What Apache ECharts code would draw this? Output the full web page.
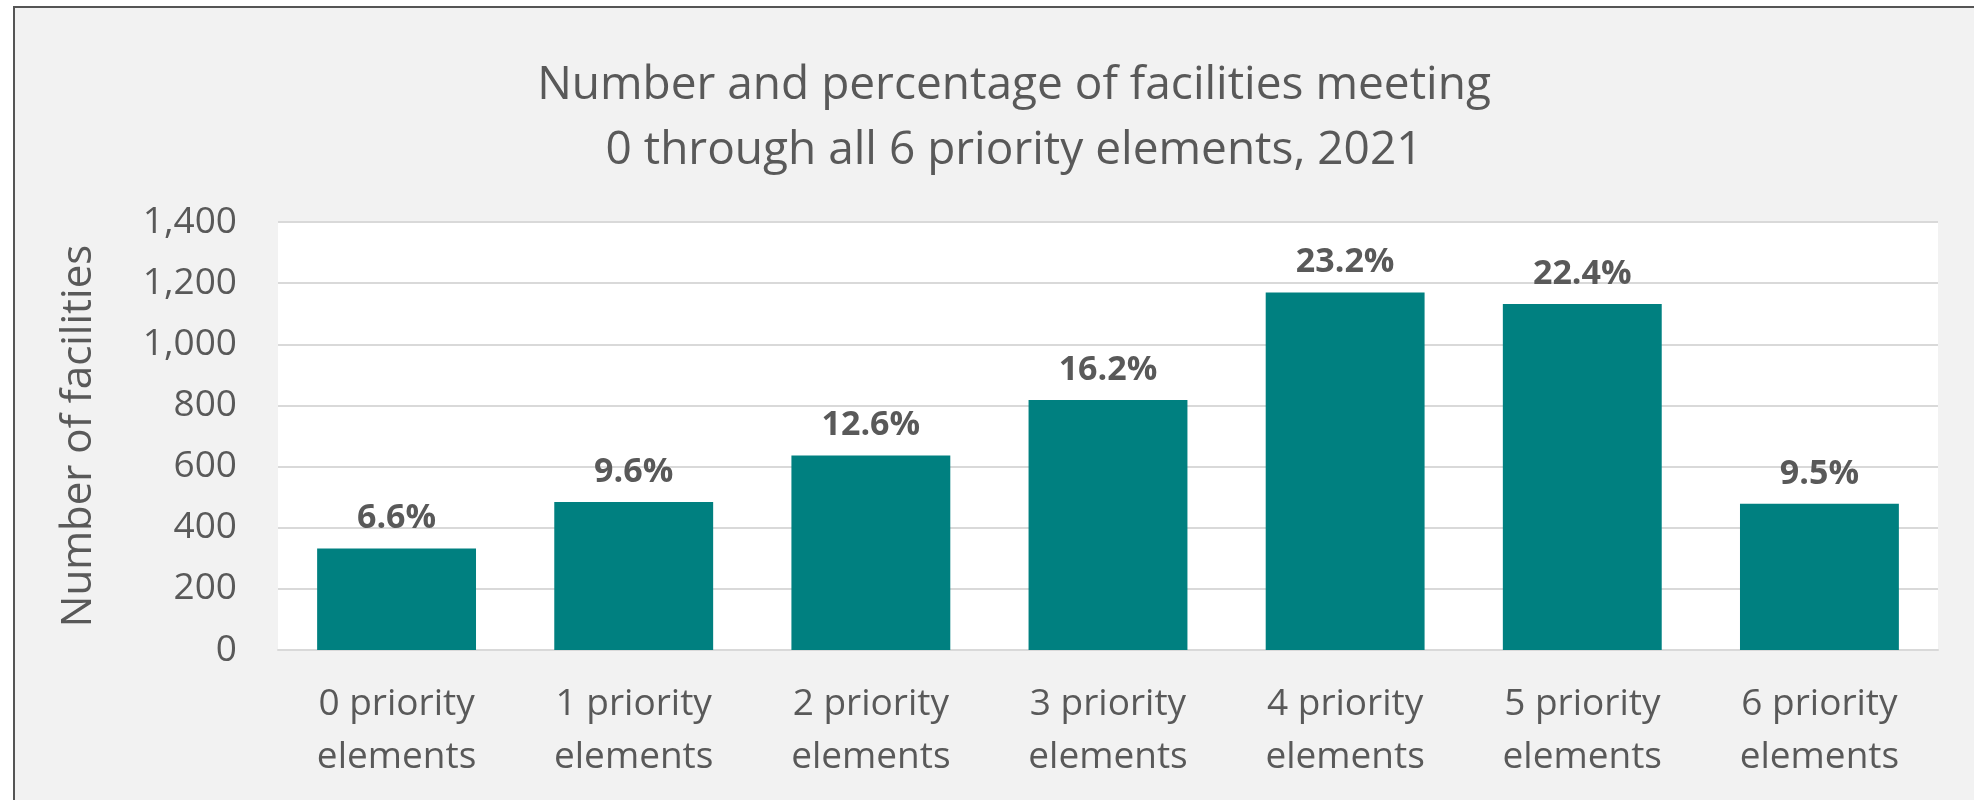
<!DOCTYPE html>
<html>
<head>
<meta charset="utf-8">
<title>Facilities meeting priority elements, 2021</title>
<script src="https://cdn.jsdelivr.net/npm/echarts@6/dist/echarts.min.js"></script>
<style>
  html, body {
    margin: 0;
    padding: 0;
    background: #fff;
    overflow: hidden;
  }
  #frame {
    position: absolute;
    left: 13px;
    top: 6px;
    right: 0;
    bottom: 0;
    background: #f2f2f2;
    border-top: 2px solid #555;
    border-left: 2px solid #555;
  }
  #chart {
    position: absolute;
    left: 0;
    top: 0;
    width: 1974px;
    height: 800px;
  }
</style>
</head>
<body>
<div id="frame"></div>
<div id="chart"></div>
<script>
// categories and values
const categories = [
  "0 priority\nelements",
  "1 priority\nelements",
  "2 priority\nelements",
  "3 priority\nelements",
  "4 priority\nelements",
  "5 priority\nelements",
  "6 priority\nelements"
];
const facilities = [332, 484, 636, 818, 1169, 1132, 478];
const percentLabels = ["6.6%", "9.6%", "12.6%", "16.2%", "23.2%", "22.4%", "9.5%"];

const textColor = "#595959";
const font = "'Open Sans', sans-serif";

const chart = echarts.init(document.getElementById("chart"));
chart.setOption({
  backgroundColor: "transparent",
  animation: false,
  title: {
    text: "Number and percentage of facilities meeting\n0 through all 6 priority elements, 2021",
    left: 1009,
    top: 48,
    textAlign: "center",
    textStyle: {
      color: textColor,
      fontFamily: font,
      fontSize: 46,
      fontWeight: "normal",
      lineHeight: 65
    }
  },
  grid: {
    left: 278,
    right: 36,
    top: 222,
    bottom: 150,
    show: true,
    backgroundColor: "#fff",
    borderWidth: 0
  },
  xAxis: {
    type: "category",
    data: categories,
    axisLine: { lineStyle: { color: "#d9d9d9", width: 2 } },
    axisTick: { show: false },
    axisLabel: {
      color: textColor,
      fontFamily: font,
      fontSize: 37,
      lineHeight: 53,
      margin: 28,
      interval: 0
    }
  },
  yAxis: {
    type: "value",
    min: 0,
    max: 1400,
    interval: 200,
    name: "Number of facilities",
    nameLocation: "middle",
    nameRotate: 90,
    nameGap: 178,
    nameTextStyle: {
      color: textColor,
      fontFamily: font,
      fontSize: 42
    },
    axisLine: { show: false },
    axisTick: { show: false },
    axisLabel: {
      color: textColor,
      fontFamily: font,
      fontSize: 37,
      margin: 41,
      formatter: v => v.toLocaleString("en-US")
    },
    splitLine: { lineStyle: { color: "#d9d9d9", width: 2 } }
  },
  series: [
    {
      type: "bar",
      data: facilities,
      barCategoryGap: "33%",
      itemStyle: { color: "#008080" },
      label: {
        show: true,
        position: "top",
        distance: 13,
        color: textColor,
        fontFamily: font,
        fontSize: 34,
        fontWeight: "bold",
        formatter: p => percentLabels[p.dataIndex]
      }
    }
  ]
});
</script>
</body>
</html>
